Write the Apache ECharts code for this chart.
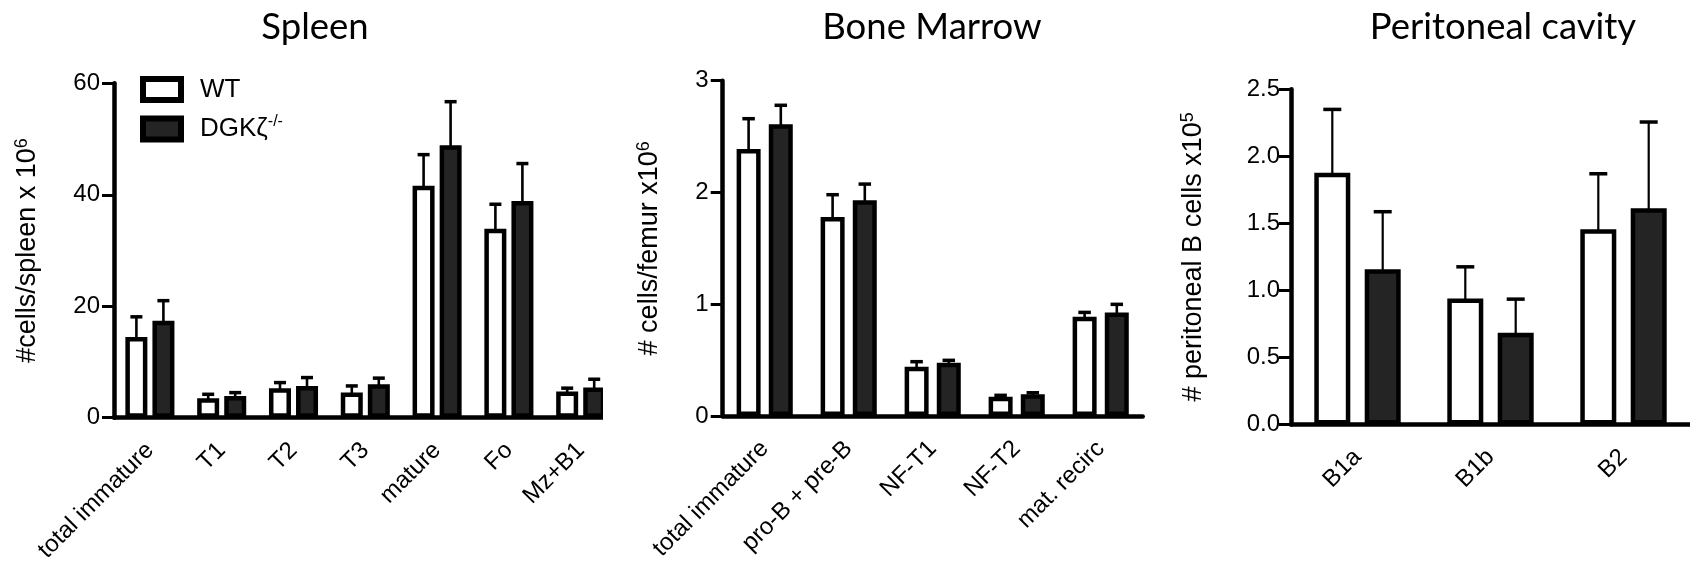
<!DOCTYPE html>
<html>
<head>
<meta charset="utf-8">
<script src="https://cdn.jsdelivr.net/npm/echarts@6/dist/echarts.min.js"></script>
<style>html,body{margin:0;padding:0;background:#fff}#c{width:1690px;height:566px}</style>
</head>
<body>
<div id="c"></div>
<script>
// ---- data ----
const spleenCats = ['total immature', 'T1', 'T2', 'T3', 'mature', 'Fo', 'Mz+B1'];
const spleenWT = [14.5, 3.5, 5.3, 4.5, 41.6, 33.9, 4.7];
const spleenWTerr = [3.6, 0.7, 1.0, 1.2, 5.6, 4.4, 0.6];
const spleenKO = [17.4, 3.9, 5.7, 6.0, 48.9, 38.9, 5.4];
const spleenKOerr = [3.6, 0.6, 1.5, 1.1, 7.8, 6.7, 1.5];

const bmCats = ['total immature', 'pro-B + pre-B', 'NF-T1', 'NF-T2', 'mat. recirc'];
const bmWT = [2.39, 1.78, 0.44, 0.173, 0.888];
const bmWTerr = [0.27, 0.20, 0.046, 0.012, 0.039];
const bmKO = [2.61, 1.93, 0.477, 0.194, 0.927];
const bmKOerr = [0.17, 0.145, 0.021, 0.014, 0.072];

const pcCats = ['B1a', 'B1b', 'B2'];
const pcWT = [1.878, 0.94, 1.457];
const pcWTerr = [0.472, 0.236, 0.413];
const pcKO = [1.157, 0.684, 1.612];
const pcKOerr = [0.43, 0.251, 0.644];

const spleenTicks = {min: 0, max: 60, interval: 20};
const bmTicks = {min: 0, max: 3, interval: 1};
const pcTicks = {min: 0, max: 2.5, interval: 0.5};

// ---- styles ----
const AX = 'Liberation Sans, Arial, sans-serif';
const TT = 'Lato, sans-serif';
const DARK = '#242424';

function xAxis(gi, cats, margin) {
  return {
    type: 'category', gridIndex: gi, data: cats,
    axisLine: {lineStyle: {color: '#000', width: 4.5}},
    axisTick: {alignWithLabel: true, length: 12, lineStyle: {color: '#000', width: 4}},
    axisLabel: {rotate: 45, interval: 0, margin: margin, color: '#000', fontSize: 24, fontFamily: AX}
  };
}
function yAxis(gi, t, name, gap, lblMargin, fmt) {
  return {
    type: 'value', gridIndex: gi, min: t.min, max: t.max, interval: t.interval,
    name: name, nameLocation: 'middle', nameGap: gap,
    nameTextStyle: {
      color: '#000',
      rich: {
        a: {fontSize: 27, fontFamily: AX, color: '#000', lineHeight: 30},
        s: {fontSize: 18, fontFamily: AX, color: '#000', lineHeight: 16, verticalAlign: 'top'}
      }
    },
    axisLine: {show: true, lineStyle: {color: '#000', width: 4.5}},
    axisTick: {show: true, length: 12, lineStyle: {color: '#000', width: 3}},
    axisLabel: {margin: lblMargin, color: '#000', fontSize: 24, fontFamily: AX, formatter: fmt},
    splitLine: {show: false}
  };
}
function barS(name, gi, vals, bw, gap, dark) {
  return {
    type: 'bar', name: name, xAxisIndex: gi, yAxisIndex: gi, data: vals,
    barWidth: bw, barGap: gap,
    itemStyle: {color: dark ? DARK : '#fff', borderColor: '#000', borderWidth: 4.5},
    emphasis: {disabled: true}, z: 2
  };
}
function errS(gi, vals, errs, offset, cap, lw) {
  return {
    type: 'custom', xAxisIndex: gi, yAxisIndex: gi, z: 3, silent: true,
    data: vals.map((v, i) => [i, v, errs[i]]),
    renderItem: function (params, api) {
      const ci = api.value(0), v = api.value(1), e = api.value(2);
      const p0 = api.coord([ci, v]);
      const p1 = api.coord([ci, v + e]);
      const x = p0[0] + offset;
      return {
        type: 'group', children: [
          {type: 'line', shape: {x1: x, y1: p0[1] + 2, x2: x, y2: p1[1]}, style: {stroke: '#000', lineWidth: lw}},
          {type: 'line', shape: {x1: x - cap / 2, y1: p1[1], x2: x + cap / 2, y2: p1[1]}, style: {stroke: '#000', lineWidth: 3.5}}
        ]
      };
    }
  };
}

const chart = echarts.init(document.getElementById('c'));
const titleStyle = {fontFamily: TT, fontSize: 36.5, fontWeight: 'normal', color: '#000'};
chart.setOption({
  animation: false,
  backgroundColor: '#fff',
  title: [
    {text: 'Spleen', left: 310, top: 4, textAlign: 'center', textStyle: titleStyle},
    {text: 'Bone Marrow', left: 927, top: 4, textAlign: 'center', textStyle: titleStyle},
    {text: 'Peritoneal cavity', left: 1498, top: 4, textAlign: 'center', textStyle: titleStyle}
  ],
  legend: {
    orient: 'vertical', left: 140, top: 76, padding: 0, itemGap: 11,
    itemWidth: 38, itemHeight: 21, icon: 'rect',
    data: ['WT', 'DGK'],
    itemStyle: {borderColor: '#000', borderWidth: 6},
    formatter: n => n === 'DGK' ? '{a|DGKζ}{s|-/-}' : '{a|WT}',
    textStyle: {
      padding: [0, 0, 0, 14],
      rich: {
        a: {fontSize: 26, fontFamily: AX, color: '#000', lineHeight: 30},
        s: {fontSize: 16, fontFamily: AX, color: '#000', lineHeight: 16, verticalAlign: 'top'}
      }
    }
  },
  grid: [
    {left: 114, top: 83.3, width: 502.6, height: 334.4, outerBoundsMode: 'none'},
    {left: 722.7, top: 80.7, width: 420, height: 335.3, outerBoundsMode: 'none'},
    {left: 1291, top: 89.3, width: 399, height: 335.2, outerBoundsMode: 'none'}
  ],
  xAxis: [xAxis(0, spleenCats, 29), xAxis(1, bmCats, 29), xAxis(2, pcCats, 29)],
  yAxis: [
    yAxis(0, spleenTicks, '{a|#cells/spleen x 10}{s|6}', 71, 14),
    yAxis(1, bmTicks, '{a|# cells/femur x10}{s|6}', 58, 14),
    yAxis(2, pcTicks, '{a|# peritoneal B cells x10}{s|5}', 82, 11, v => v.toFixed(1))
  ],
  series: [
    barS('WT', 0, spleenWT, 22, '23%', false),
    barS('DGK', 0, spleenKO, 22, '23%', true),
    errS(0, spleenWT, spleenWTerr, -13.5, 12, 2.6),
    errS(0, spleenKO, spleenKOerr, 13.5, 12, 2.6),
    barS('WT', 1, bmWT, 24, '34%', false),
    barS('DGK', 1, bmKO, 24, '34%', true),
    errS(1, bmWT, bmWTerr, -16.1, 12.5, 2.6),
    errS(1, bmKO, bmKOerr, 16.1, 12.5, 2.6),
    barS('WT', 2, pcWT, 36, '40%', false),
    barS('DGK', 2, pcKO, 36, '40%', true),
    errS(2, pcWT, pcWTerr, -25.2, 18, 2.2),
    errS(2, pcKO, pcKOerr, 25.2, 18, 2.2)
  ],
  graphic: [
    {type: 'rect', z: 100, shape: {x: 603, y: 60, width: 27, height: 385}, style: {fill: '#fff'}, silent: true}
  ]
});
</script>
</body>
</html>
